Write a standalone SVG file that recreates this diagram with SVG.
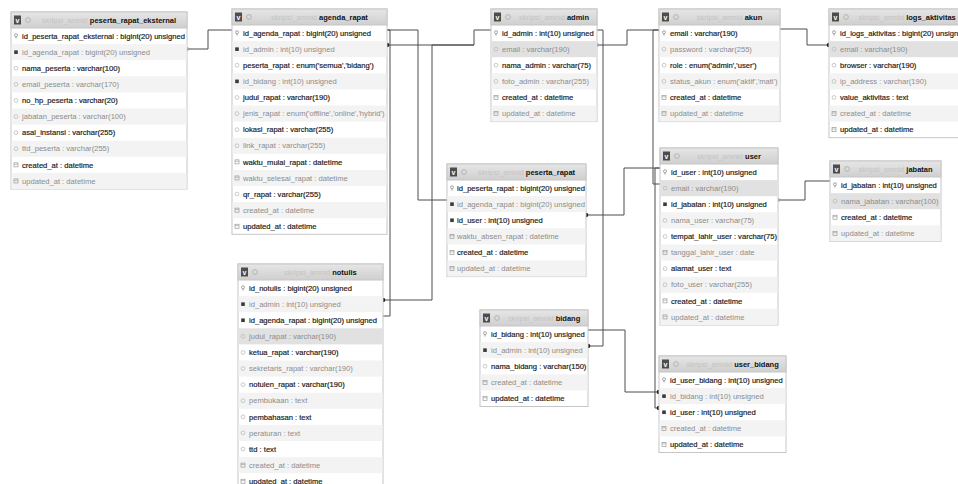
<svg xmlns="http://www.w3.org/2000/svg" xmlns:xlink="http://www.w3.org/1999/xlink" width="958" height="484" viewBox="0 0 958 484">
<style>
.bg{fill:#fff}
.box{fill:#fff;stroke:#c6c6c6;stroke-width:1}
.hd{fill:url(#hdg);stroke:#c6c6c6;stroke-width:1}
.alt{fill:#f3f3f3}
.hl{fill:#e1e1e1}
.ht{font:bold 7.5px "Liberation Sans",Arial,sans-serif;fill:#111}
.pre{font-weight:normal;fill:#c4c4c4}
.td{font:7.6px "Liberation Sans",Arial,sans-serif;fill:#1a1a1a;stroke:#1a1a1a;stroke-width:0.18}
.tl{font:7.6px "Liberation Sans",Arial,sans-serif;fill:#8c8c8c}
.hv{font:bold 7px "Liberation Sans",Arial,sans-serif;fill:#fff}
.wire{fill:none;stroke:#4d4d4d;stroke-width:1}
</style>
<defs>
<linearGradient id="hdg" x1="0" y1="0" x2="0" y2="1">
<stop offset="0" stop-color="#e6e6e6"/><stop offset="1" stop-color="#cfcfcf"/>
</linearGradient>
<g id="hdi">
<rect x="3" y="3.5" width="7" height="9" fill="#4d4d4d"/>
<text class="hv" x="6.5" y="10.6" text-anchor="middle">v</text>
<circle cx="17" cy="8" r="2.4" fill="none" stroke="#b0b0b0" stroke-width="0.9"/>
</g>
<g id="ic-k"><circle cx="0" cy="-0.8" r="1.5" fill="none" stroke="#9a9a9a" stroke-width="0.9"/><path d="M0,0.7V2.6" stroke="#9a9a9a" stroke-width="0.9"/></g>
<rect id="ic-f" x="-1.8" y="-1.8" width="3.6" height="3.6" fill="#3a3a3a"/>
<circle id="ic-c" r="1.9" fill="none" stroke="#bdbdbd" stroke-width="0.8"/>
<g id="ic-d"><rect x="-2" y="-2" width="4" height="4" fill="none" stroke="#9a9a9a" stroke-width="0.7"/><path d="M-2,-0.6H2" stroke="#9a9a9a" stroke-width="0.6"/></g>
<marker id="dot" viewBox="-3 -3 6 6" markerWidth="6" markerHeight="6" markerUnits="userSpaceOnUse"><circle r="2.3" fill="#222"/></marker>
<marker id="tip" viewBox="0 0 5 5" refX="0" refY="2.5" markerWidth="5" markerHeight="5" orient="auto" markerUnits="userSpaceOnUse"><path d="M0,0.5 L4.5,2.5 L0,4.5z" fill="#a0a0a0"/></marker>
</defs>

<rect class="bg" width="958" height="484"/>

<!-- relation lines -->
<g id="connectors">
<path class="wire" d="M187,49 H208 V30 H232" marker-start="url(#tip)"/>
<path class="wire" d="M387,30 H418 V200 H447"/>
<path class="wire" d="M387,30 H390 V316 H383" marker-end="url(#tip)"/>
<path class="wire" d="M387,45 H474 V30 H491" marker-start="url(#dot)"/>
<path class="wire" d="M383,300 H432 V45 H474" marker-start="url(#dot)"/>
<path class="wire" d="M597,30 H603 V346 H588" marker-end="url(#dot)"/>
<path class="wire" d="M597,45 H627 V30 H659" marker-start="url(#tip)"/>
<path class="wire" d="M659,30 H653 V184 H660" marker-end="url(#tip)"/>
<path class="wire" d="M780,29 H807 V45 H829" marker-end="url(#dot)"/>
<path class="wire" d="M586,215 H624 V168 H660" marker-start="url(#dot)"/>
<path class="wire" d="M778,200 H805 V181 H830" marker-start="url(#tip)"/>
<path class="wire" d="M588,330 H625 V392 H659" marker-end="url(#dot)"/>
<path class="wire" d="M660,168 H655 V408 H659" marker-end="url(#dot)"/>
</g>

<!-- peserta_rapat_eksternal -->
<g id="tbl-peserta_rapat_eksternal" transform="translate(11,12)">
<rect class="box" width="176" height="177"/>
<rect class="alt" x="0.5" y="32.1" width="175" height="16.1"/>
<rect class="alt" x="0.5" y="64.3" width="175" height="16.1"/>
<rect class="alt" x="0.5" y="96.5" width="175" height="16.1"/>
<rect class="alt" x="0.5" y="128.7" width="175" height="16.1"/>
<rect class="alt" x="0.5" y="160.9" width="175" height="16.1"/>
<rect class="hd" width="176" height="16"/>
<use href="#hdi"/>
<text class="ht" x="98" y="11" text-anchor="middle"><tspan class="pre">skripsi_amnid </tspan>peserta_rapat_eksternal</text>
<use href="#ic-k" x="5" y="24.05"/><text class="td" x="11" y="26.7">id_peserta_rapat_eksternal : bigint(20) unsigned</text>
<use href="#ic-f" x="5" y="40.15"/><text class="tl" x="11" y="42.8">id_agenda_rapat : bigint(20) unsigned</text>
<use href="#ic-c" x="5" y="56.25"/><text class="td" x="11" y="58.9">nama_peserta : varchar(100)</text>
<use href="#ic-c" x="5" y="72.35"/><text class="tl" x="11" y="75">email_peserta : varchar(170)</text>
<use href="#ic-c" x="5" y="88.45"/><text class="td" x="11" y="91.1">no_hp_peserta : varchar(20)</text>
<use href="#ic-c" x="5" y="104.55"/><text class="tl" x="11" y="107.2">jabatan_peserta : varchar(100)</text>
<use href="#ic-c" x="5" y="120.65"/><text class="td" x="11" y="123.3">asal_instansi : varchar(255)</text>
<use href="#ic-c" x="5" y="136.75"/><text class="tl" x="11" y="139.4">ttd_peserta : varchar(255)</text>
<use href="#ic-d" x="5" y="152.85"/><text class="td" x="11" y="155.5">created_at : datetime</text>
<use href="#ic-d" x="5" y="168.95"/><text class="tl" x="11" y="171.6">updated_at : datetime</text>
</g>

<!-- agenda_rapat -->
<g id="tbl-agenda_rapat" transform="translate(232,9)">
<rect class="box" width="155" height="225.3"/>
<rect class="alt" x="0.5" y="32.1" width="154" height="16.1"/>
<rect class="alt" x="0.5" y="64.3" width="154" height="16.1"/>
<rect class="alt" x="0.5" y="96.5" width="154" height="16.1"/>
<rect class="alt" x="0.5" y="128.7" width="154" height="16.1"/>
<rect class="alt" x="0.5" y="160.9" width="154" height="16.1"/>
<rect class="alt" x="0.5" y="193.1" width="154" height="16.1"/>
<rect class="hd" width="155" height="16"/>
<use href="#hdi"/>
<text class="ht" x="87.5" y="11" text-anchor="middle"><tspan class="pre">skripsi_amnid </tspan>agenda_rapat</text>
<use href="#ic-k" x="5" y="24.05"/><text class="td" x="11" y="26.7">id_agenda_rapat : bigint(20) unsigned</text>
<use href="#ic-f" x="5" y="40.15"/><text class="tl" x="11" y="42.8">id_admin : int(10) unsigned</text>
<use href="#ic-c" x="5" y="56.25"/><text class="td" x="11" y="58.9">peserta_rapat : enum('semua','bidang')</text>
<use href="#ic-f" x="5" y="72.35"/><text class="tl" x="11" y="75">id_bidang : int(10) unsigned</text>
<use href="#ic-c" x="5" y="88.45"/><text class="td" x="11" y="91.1">judul_rapat : varchar(190)</text>
<use href="#ic-c" x="5" y="104.55"/><text class="tl" x="11" y="107.2">jenis_rapat : enum('offline','online','hybrid')</text>
<use href="#ic-c" x="5" y="120.65"/><text class="td" x="11" y="123.3">lokasi_rapat : varchar(255)</text>
<use href="#ic-c" x="5" y="136.75"/><text class="tl" x="11" y="139.4">link_rapat : varchar(255)</text>
<use href="#ic-d" x="5" y="152.85"/><text class="td" x="11" y="155.5">waktu_mulai_rapat : datetime</text>
<use href="#ic-d" x="5" y="168.95"/><text class="tl" x="11" y="171.6">waktu_selesai_rapat : datetime</text>
<use href="#ic-c" x="5" y="185.05"/><text class="td" x="11" y="187.7">qr_rapat : varchar(255)</text>
<use href="#ic-d" x="5" y="201.15"/><text class="tl" x="11" y="203.8">created_at : datetime</text>
<use href="#ic-d" x="5" y="217.25"/><text class="td" x="11" y="219.9">updated_at : datetime</text>
</g>

<!-- admin -->
<g id="tbl-admin" transform="translate(491,9)">
<rect class="box" width="106" height="112.6"/>
<rect class="hl" x="0.5" y="32.1" width="105" height="16.1"/>
<rect class="alt" x="0.5" y="64.3" width="105" height="16.1"/>
<rect class="alt" x="0.5" y="96.5" width="105" height="16.1"/>
<rect class="hd" width="106" height="16"/>
<use href="#hdi"/>
<text class="ht" x="63" y="11" text-anchor="middle"><tspan class="pre">skripsi_amnid </tspan>admin</text>
<use href="#ic-k" x="5" y="24.05"/><text class="td" x="11" y="26.7">id_admin : int(10) unsigned</text>
<use href="#ic-c" x="5" y="40.15"/><text class="tl" x="11" y="42.8">email : varchar(190)</text>
<use href="#ic-c" x="5" y="56.25"/><text class="td" x="11" y="58.9">nama_admin : varchar(75)</text>
<use href="#ic-c" x="5" y="72.35"/><text class="tl" x="11" y="75">foto_admin : varchar(255)</text>
<use href="#ic-d" x="5" y="88.45"/><text class="td" x="11" y="91.1">created_at : datetime</text>
<use href="#ic-d" x="5" y="104.55"/><text class="tl" x="11" y="107.2">updated_at : datetime</text>
</g>

<!-- akun -->
<g id="tbl-akun" transform="translate(659,9)">
<rect class="box" width="121" height="112.6"/>
<rect class="alt" x="0.5" y="32.1" width="120" height="16.1"/>
<rect class="alt" x="0.5" y="64.3" width="120" height="16.1"/>
<rect class="alt" x="0.5" y="96.5" width="120" height="16.1"/>
<rect class="hd" width="121" height="16"/>
<use href="#hdi"/>
<text class="ht" x="70.5" y="11" text-anchor="middle"><tspan class="pre">skripsi_amnid </tspan>akun</text>
<use href="#ic-k" x="5" y="24.05"/><text class="td" x="11" y="26.7">email : varchar(190)</text>
<use href="#ic-c" x="5" y="40.15"/><text class="tl" x="11" y="42.8">password : varchar(255)</text>
<use href="#ic-c" x="5" y="56.25"/><text class="td" x="11" y="58.9">role : enum('admin','user')</text>
<use href="#ic-c" x="5" y="72.35"/><text class="tl" x="11" y="75">status_akun : enum('aktif','mati')</text>
<use href="#ic-d" x="5" y="88.45"/><text class="td" x="11" y="91.1">created_at : datetime</text>
<use href="#ic-d" x="5" y="104.55"/><text class="tl" x="11" y="107.2">updated_at : datetime</text>
</g>

<!-- logs_aktivitas (runs past the right edge) -->
<g id="tbl-logs_aktivitas" transform="translate(829,9)">
<rect class="box" width="140" height="128.7"/>
<rect class="hl" x="0.5" y="32.1" width="139" height="16.1"/>
<rect class="alt" x="0.5" y="64.3" width="139" height="16.1"/>
<rect class="alt" x="0.5" y="96.5" width="139" height="16.1"/>
<rect class="hd" width="140" height="16"/>
<use href="#hdi"/>
<text class="ht" x="78" y="11" text-anchor="middle"><tspan class="pre">skripsi_amnid </tspan>logs_aktivitas</text>
<use href="#ic-k" x="5" y="24.05"/><text class="td" x="11" y="26.7">id_logs_aktivitas : bigint(20) unsigned</text>
<use href="#ic-c" x="5" y="40.15"/><text class="tl" x="11" y="42.8">email : varchar(190)</text>
<use href="#ic-c" x="5" y="56.25"/><text class="td" x="11" y="58.9">browser : varchar(190)</text>
<use href="#ic-c" x="5" y="72.35"/><text class="tl" x="11" y="75">ip_address : varchar(190)</text>
<use href="#ic-c" x="5" y="88.45"/><text class="td" x="11" y="91.1">value_aktivitas : text</text>
<use href="#ic-d" x="5" y="104.55"/><text class="tl" x="11" y="107.2">created_at : datetime</text>
<use href="#ic-d" x="5" y="120.65"/><text class="td" x="11" y="123.3">updated_at : datetime</text>
</g>

<!-- peserta_rapat -->
<g id="tbl-peserta_rapat" transform="translate(447,164)">
<rect class="box" width="139" height="112.6"/>
<rect class="alt" x="0.5" y="32.1" width="138" height="16.1"/>
<rect class="alt" x="0.5" y="64.3" width="138" height="16.1"/>
<rect class="alt" x="0.5" y="96.5" width="138" height="16.1"/>
<rect class="hd" width="139" height="16"/>
<use href="#hdi"/>
<text class="ht" x="79.5" y="11" text-anchor="middle"><tspan class="pre">skripsi_amnid </tspan>peserta_rapat</text>
<use href="#ic-k" x="5" y="24.05"/><text class="td" x="10" y="26.7">id_peserta_rapat : bigint(20) unsigned</text>
<use href="#ic-f" x="5" y="40.15"/><text class="tl" x="10" y="42.8">id_agenda_rapat : bigint(20) unsigned</text>
<use href="#ic-f" x="5" y="56.25"/><text class="td" x="10" y="58.9">id_user : int(10) unsigned</text>
<use href="#ic-d" x="5" y="72.35"/><text class="tl" x="10" y="75">waktu_absen_rapat : datetime</text>
<use href="#ic-d" x="5" y="88.45"/><text class="td" x="10" y="91.1">created_at : datetime</text>
<use href="#ic-d" x="5" y="104.55"/><text class="tl" x="10" y="107.2">updated_at : datetime</text>
</g>

<!-- user -->
<g id="tbl-user" transform="translate(660,148)">
<rect class="box" width="118" height="177"/>
<rect class="hl" x="0.5" y="32.1" width="117" height="16.1"/>
<rect class="alt" x="0.5" y="64.3" width="117" height="16.1"/>
<rect class="alt" x="0.5" y="96.5" width="117" height="16.1"/>
<rect class="alt" x="0.5" y="128.7" width="117" height="16.1"/>
<rect class="alt" x="0.5" y="160.9" width="117" height="16.1"/>
<rect class="hd" width="118" height="16"/>
<use href="#hdi"/>
<text class="ht" x="69" y="11" text-anchor="middle"><tspan class="pre">skripsi_amnid </tspan>user</text>
<use href="#ic-k" x="5" y="24.05"/><text class="td" x="11" y="26.7">id_user : int(10) unsigned</text>
<use href="#ic-c" x="5" y="40.15"/><text class="tl" x="11" y="42.8">email : varchar(190)</text>
<use href="#ic-f" x="5" y="56.25"/><text class="td" x="11" y="58.9">id_jabatan : int(10) unsigned</text>
<use href="#ic-c" x="5" y="72.35"/><text class="tl" x="11" y="75">nama_user : varchar(75)</text>
<use href="#ic-c" x="5" y="88.45"/><text class="td" x="11" y="91.1">tempat_lahir_user : varchar(75)</text>
<use href="#ic-d" x="5" y="104.55"/><text class="tl" x="11" y="107.2">tanggal_lahir_user : date</text>
<use href="#ic-c" x="5" y="120.65"/><text class="td" x="11" y="123.3">alamat_user : text</text>
<use href="#ic-c" x="5" y="136.75"/><text class="tl" x="11" y="139.4">foto_user : varchar(255)</text>
<use href="#ic-d" x="5" y="152.85"/><text class="td" x="11" y="155.5">created_at : datetime</text>
<use href="#ic-d" x="5" y="168.95"/><text class="tl" x="11" y="171.6">updated_at : datetime</text>
</g>

<!-- jabatan -->
<g id="tbl-jabatan" transform="translate(830,161)">
<rect class="box" width="111" height="80.4"/>
<rect class="hl" x="0.5" y="32.1" width="110" height="16.1"/>
<rect class="alt" x="0.5" y="64.3" width="110" height="16.1"/>
<rect class="hd" width="111" height="16"/>
<use href="#hdi"/>
<text class="ht" x="65.5" y="11" text-anchor="middle"><tspan class="pre">skripsi_amnid </tspan>jabatan</text>
<use href="#ic-k" x="5" y="24.05"/><text class="td" x="11" y="26.7">id_jabatan : int(10) unsigned</text>
<use href="#ic-c" x="5" y="40.15"/><text class="tl" x="11" y="42.8">nama_jabatan : varchar(100)</text>
<use href="#ic-d" x="5" y="56.25"/><text class="td" x="11" y="58.9">created_at : datetime</text>
<use href="#ic-d" x="5" y="72.35"/><text class="tl" x="11" y="75">updated_at : datetime</text>
</g>

<!-- notulis (runs past the bottom edge) -->
<g id="tbl-notulis" transform="translate(238,264)">
<rect class="box" width="145" height="225.3"/>
<rect class="alt" x="0.5" y="32.1" width="144" height="16.1"/>
<rect class="hl" x="0.5" y="64.3" width="144" height="16.1"/>
<rect class="alt" x="0.5" y="96.5" width="144" height="16.1"/>
<rect class="alt" x="0.5" y="128.7" width="144" height="16.1"/>
<rect class="alt" x="0.5" y="160.9" width="144" height="16.1"/>
<rect class="alt" x="0.5" y="193.1" width="144" height="16.1"/>
<rect class="hd" width="145" height="16"/>
<use href="#hdi"/>
<text class="ht" x="82.5" y="11" text-anchor="middle"><tspan class="pre">skripsi_amnid </tspan>notulis</text>
<use href="#ic-k" x="5" y="24.05"/><text class="td" x="11" y="26.7">id_notulis : bigint(20) unsigned</text>
<use href="#ic-f" x="5" y="40.15"/><text class="tl" x="11" y="42.8">id_admin : int(10) unsigned</text>
<use href="#ic-f" x="5" y="56.25"/><text class="td" x="11" y="58.9">id_agenda_rapat : bigint(20) unsigned</text>
<use href="#ic-c" x="5" y="72.35"/><text class="tl" x="11" y="75">judul_rapat : varchar(190)</text>
<use href="#ic-c" x="5" y="88.45"/><text class="td" x="11" y="91.1">ketua_rapat : varchar(190)</text>
<use href="#ic-c" x="5" y="104.55"/><text class="tl" x="11" y="107.2">sekretaris_rapat : varchar(190)</text>
<use href="#ic-c" x="5" y="120.65"/><text class="td" x="11" y="123.3">notulen_rapat : varchar(190)</text>
<use href="#ic-c" x="5" y="136.75"/><text class="tl" x="11" y="139.4">pembukaan : text</text>
<use href="#ic-c" x="5" y="152.85"/><text class="td" x="11" y="155.5">pembahasan : text</text>
<use href="#ic-c" x="5" y="168.95"/><text class="tl" x="11" y="171.6">peraturan : text</text>
<use href="#ic-c" x="5" y="185.05"/><text class="td" x="11" y="187.7">ttd : text</text>
<use href="#ic-d" x="5" y="201.15"/><text class="tl" x="11" y="203.8">created_at : datetime</text>
<use href="#ic-d" x="5" y="217.25"/><text class="td" x="11" y="219.9">updated_at : datetime</text>
</g>

<!-- bidang -->
<g id="tbl-bidang" transform="translate(480,310)">
<rect class="box" width="108" height="96.5"/>
<rect class="alt" x="0.5" y="32.1" width="107" height="16.1"/>
<rect class="alt" x="0.5" y="64.3" width="107" height="16.1"/>
<rect class="hd" width="108" height="16"/>
<use href="#hdi"/>
<text class="ht" x="64" y="11" text-anchor="middle"><tspan class="pre">skripsi_amnid </tspan>bidang</text>
<use href="#ic-k" x="5" y="24.05"/><text class="td" x="11" y="26.7">id_bidang : int(10) unsigned</text>
<use href="#ic-f" x="5" y="40.15"/><text class="tl" x="11" y="42.8">id_admin : int(10) unsigned</text>
<use href="#ic-c" x="5" y="56.25"/><text class="td" x="11" y="58.9">nama_bidang : varchar(150)</text>
<use href="#ic-d" x="5" y="72.35"/><text class="tl" x="11" y="75">created_at : datetime</text>
<use href="#ic-d" x="5" y="88.45"/><text class="td" x="11" y="91.1">updated_at : datetime</text>
</g>

<!-- user_bidang -->
<g id="tbl-user_bidang" transform="translate(659,356)">
<rect class="box" width="127" height="96.5"/>
<rect class="alt" x="0.5" y="32.1" width="126" height="16.1"/>
<rect class="alt" x="0.5" y="64.3" width="126" height="16.1"/>
<rect class="hd" width="127" height="16"/>
<use href="#hdi"/>
<text class="ht" x="73.5" y="11" text-anchor="middle"><tspan class="pre">skripsi_amnid </tspan>user_bidang</text>
<use href="#ic-k" x="5" y="24.05"/><text class="td" x="11" y="26.7">id_user_bidang : int(10) unsigned</text>
<use href="#ic-f" x="5" y="40.15"/><text class="tl" x="11" y="42.8">id_bidang : int(10) unsigned</text>
<use href="#ic-f" x="5" y="56.25"/><text class="td" x="11" y="58.9">id_user : int(10) unsigned</text>
<use href="#ic-d" x="5" y="72.35"/><text class="tl" x="11" y="75">created_at : datetime</text>
<use href="#ic-d" x="5" y="88.45"/><text class="td" x="11" y="91.1">updated_at : datetime</text>
</g>
</svg>
